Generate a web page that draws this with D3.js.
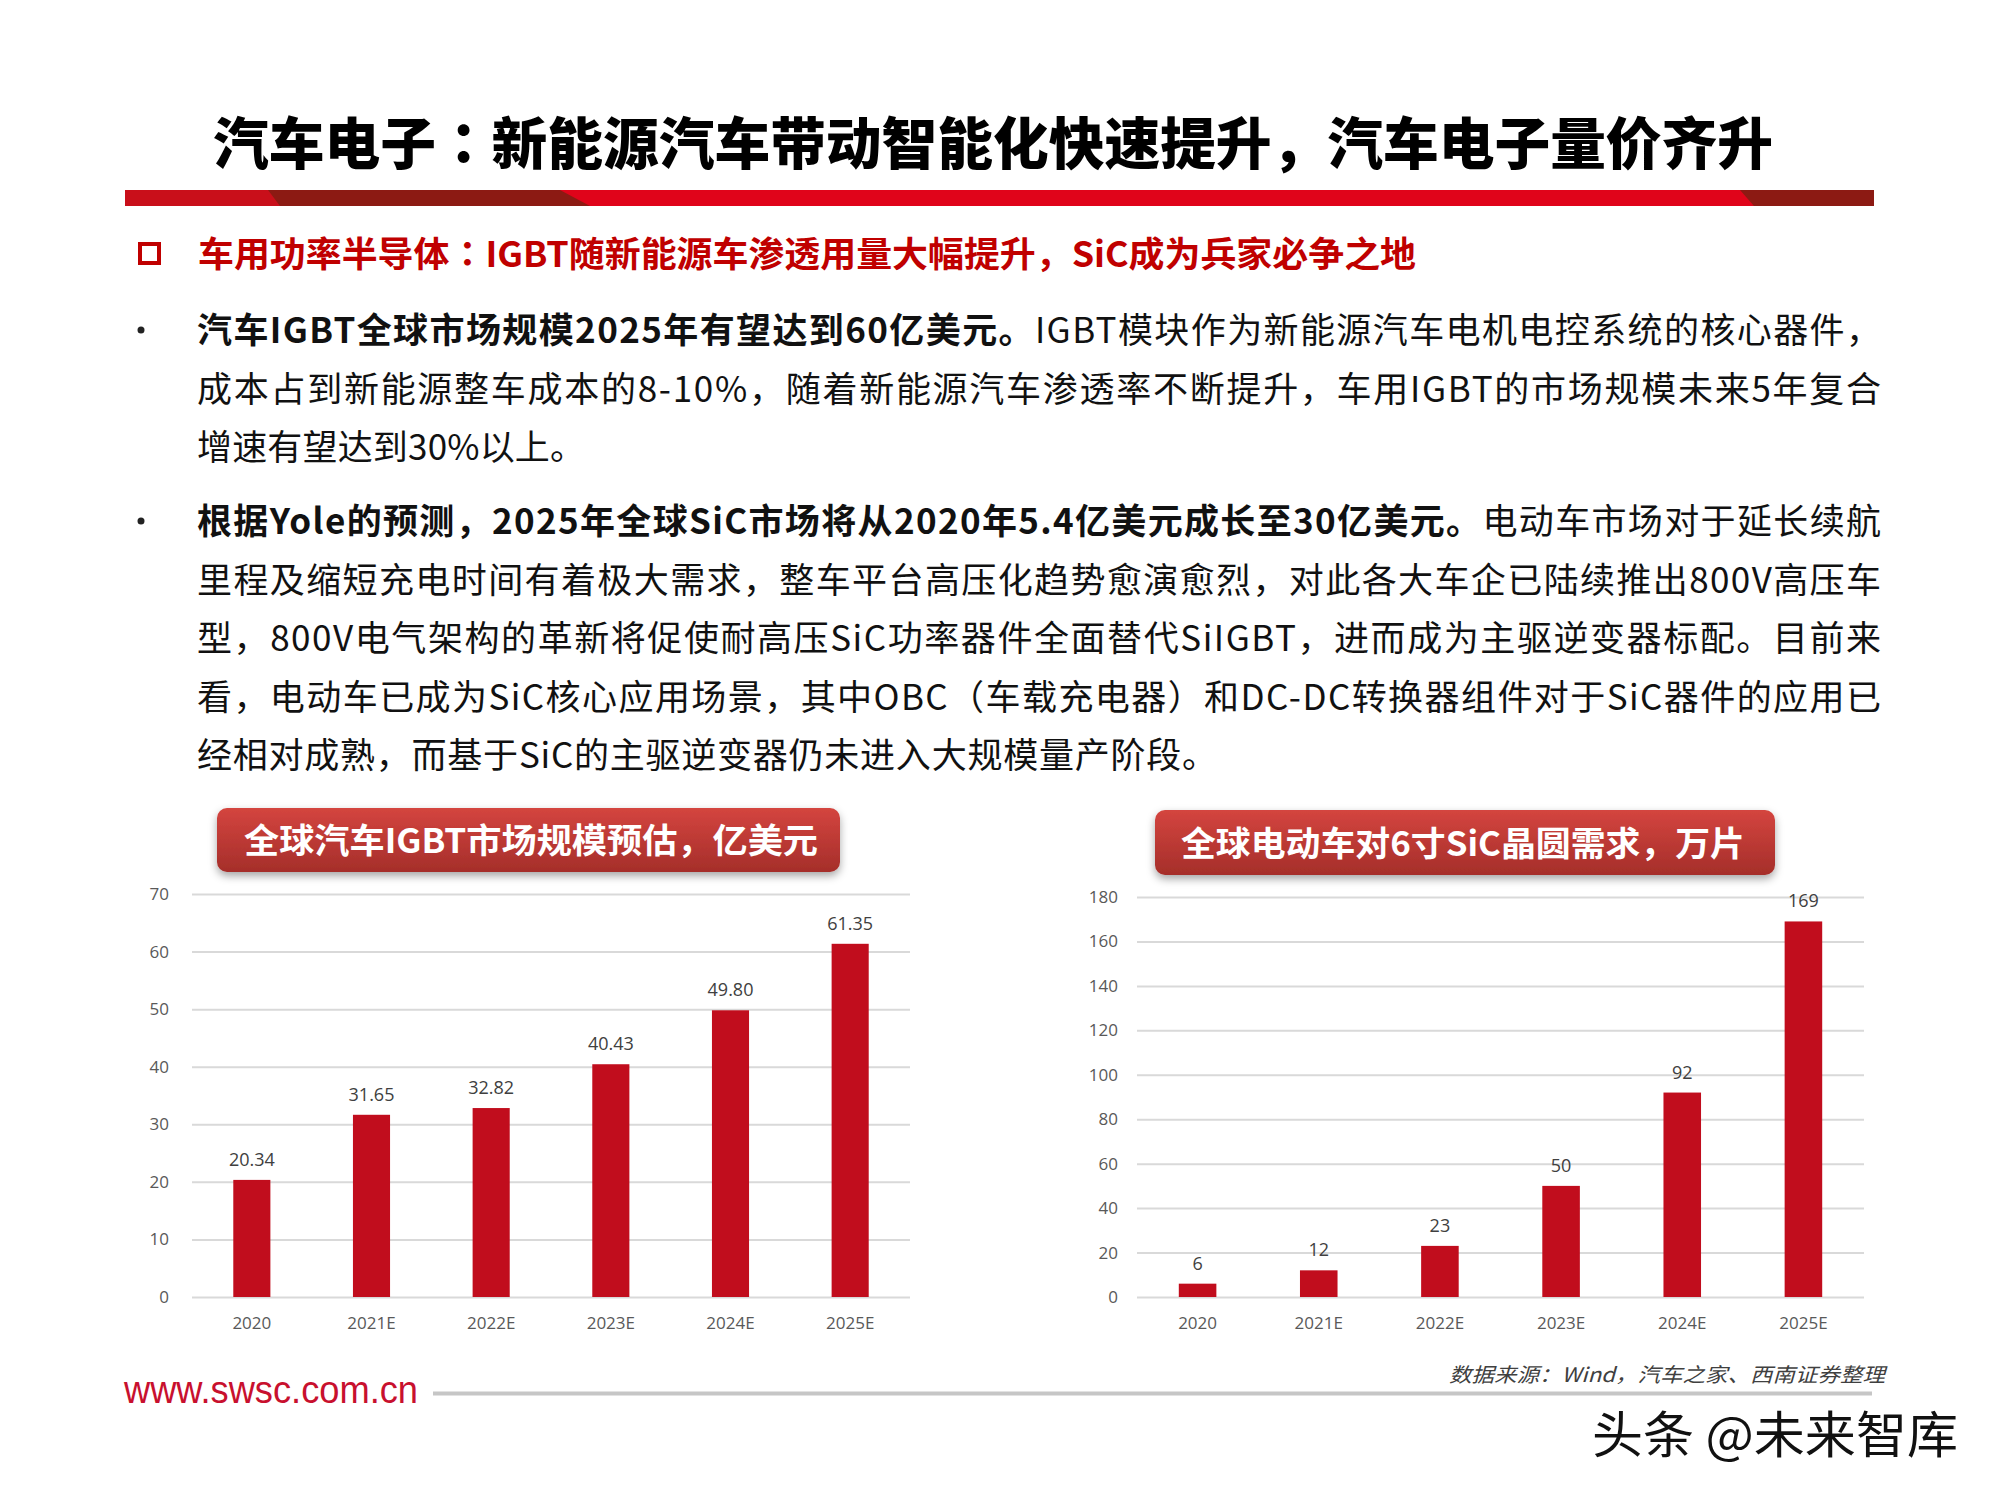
<!DOCTYPE html>
<html><head><meta charset="utf-8">
<script src="https://cdn.jsdelivr.net/npm/d3@7"></script>
<style>html,body{margin:0;padding:0;background:#fff;} svg{display:block;}</style>
</head><body>
<svg id="c" width="2000" height="1500"></svg>
<script>
// ---------- data ----------
const categories = ["2020", "2021E", "2022E", "2023E", "2024E", "2025E"];
const igbtValues = [20.34, 31.65, 32.82, 40.43, 49.80, 61.35];
const sicValues = [6, 12, 23, 50, 92, 169];
const igbtTicks = [0, 10, 20, 30, 40, 50, 60, 70];
const sicTicks = [0, 20, 40, 60, 80, 100, 120, 140, 160, 180];

const titleText = "汽车电子：新能源汽车带动智能化快速提升，汽车电子量价齐升";
const subheadText = "车用功率半导体：IGBT随新能源车渗透用量大幅提升，SiC成为兵家必争之地";
const para1 = [
  ["汽车IGBT全球市场规模2025年有望达到60亿美元。", "IGBT模块作为新能源汽车电机电控系统的核心器件，", true],
  ["", "成本占到新能源整车成本的8-10%，随着新能源汽车渗透率不断提升，车用IGBT的市场规模未来5年复合", true],
  ["", "增速有望达到30%以上。", false]
];
const para2 = [
  ["根据Yole的预测，2025年全球SiC市场将从2020年5.4亿美元成长至30亿美元。", "电动车市场对于延长续航", true],
  ["", "里程及缩短充电时间有着极大需求，整车平台高压化趋势愈演愈烈，对此各大车企已陆续推出800V高压车", true],
  ["", "型，800V电气架构的革新将促使耐高压SiC功率器件全面替代SiIGBT，进而成为主驱逆变器标配。目前来", true],
  ["", "看，电动车已成为SiC核心应用场景，其中OBC（车载充电器）和DC-DC转换器组件对于SiC器件的应用已", true],
  ["", "经相对成熟，而基于SiC的主驱逆变器仍未进入大规模量产阶段。", false]
];
const chart1Title = "全球汽车IGBT市场规模预估，亿美元";
const chart2Title = "全球电动车对6寸SiC晶圆需求，万片";
const sourceText = "数据来源：Wind，汽车之家、西南证券整理";
const urlText = "www.swsc.com.cn";
const watermarkText = "头条 @未来智库";

// ---------- drawing ----------
const svg = d3.select("#c");
const CJK = "'Noto Sans CJK SC','Noto Sans',sans-serif";
const CJKP = "'Noto Sans CJK TC','Noto Sans CJK SC',sans-serif"; // centred fullwidth colon
const defs = svg.append("defs");

// append text, putting the fullwidth colon in a centred-punctuation font
function addRich(sel, str, weight) {
  const parts = str.split(/(：)/).filter(s => s.length);
  parts.forEach(p => {
    const ts = sel.append("tspan").text(p);
    if (weight) ts.attr("font-weight", weight);
    if (p === "：") ts.attr("font-family", CJKP);
  });
}

const grad = defs.append("linearGradient").attr("id", "hdrGrad").attr("x1", 0).attr("y1", 0).attr("x2", 0).attr("y2", 1);
grad.append("stop").attr("offset", "0%").attr("stop-color", "#d4453f");
grad.append("stop").attr("offset", "100%").attr("stop-color", "#a52e2a");
const shadow = defs.append("filter").attr("id", "shd").attr("x", "-10%").attr("y", "-30%").attr("width", "120%").attr("height", "170%");
shadow.append("feDropShadow").attr("dx", 0).attr("dy", 4).attr("stdDeviation", 4).attr("flood-color", "#000").attr("flood-opacity", 0.35);

svg.append("rect").attr("width", 2000).attr("height", 1500).attr("fill", "#fff");

// title
const tt = svg.append("text").attr("x", 213).attr("y", 164)
  .attr("font-family", CJK).attr("font-size", 56).attr("font-weight", 900).attr("fill", "#000")
  .attr("textLength", 1560).attr("lengthAdjust", "spacingAndGlyphs");
addRich(tt, titleText);

// red banner bar
const bar = svg.append("g");
bar.append("rect").attr("x", 125).attr("y", 190).attr("width", 1749).attr("height", 16).attr("fill", "#e0041a");
bar.append("rect").attr("x", 125).attr("y", 190).attr("width", 160).attr("height", 16).attr("fill", "#c90f1a");
bar.append("polygon").attr("points", "268,190 560,190 590,206 280,206").attr("fill", "#8c1a13");
bar.append("polygon").attr("points", "1740,190 1874,190 1874,206 1754,206").attr("fill", "#8c1a13");

// subheading
svg.append("rect").attr("x", 140).attr("y", 244).attr("width", 19).attr("height", 19)
  .attr("fill", "none").attr("stroke", "#c00000").attr("stroke-width", 4);
const st = svg.append("text").attr("x", 198).attr("y", 267)
  .attr("font-family", CJK).attr("font-size", 35).attr("font-weight", 700).attr("fill", "#c00000")
  .attr("textLength", 1218).attr("lengthAdjust", "spacingAndGlyphs");
addRich(st, subheadText);

// body paragraphs
function drawPara(lines, y0, lastLen) {
  const lh = 58.5;
  svg.append("circle").attr("cx", 141).attr("cy", y0 - 13).attr("r", 3.5).attr("fill", "#222");
  lines.forEach((ln, i) => {
    const t = svg.append("text").attr("x", 197).attr("y", y0 + i * lh)
      .attr("font-family", CJK).attr("font-size", 35).attr("fill", "#111");
    if (ln[2]) t.attr("textLength", 1684).attr("lengthAdjust", "spacing");
    else t.attr("textLength", lastLen).attr("lengthAdjust", "spacing");
    if (ln[0]) addRich(t, ln[0], 700);
    addRich(t, ln[1]);
  });
}
drawPara(para1, 343, 388);
drawPara(para2, 534, 1020);

// chart headers
function header(x, y, w, h, label, tx, tlen) {
  svg.append("rect").attr("x", x).attr("y", y).attr("width", w).attr("height", h)
    .attr("rx", 10).attr("fill", "url(#hdrGrad)").attr("filter", "url(#shd)");
  const t = svg.append("text").attr("x", tx).attr("y", y + h / 2 + 13)
    .attr("font-family", CJK).attr("font-size", 34).attr("font-weight", 700).attr("fill", "#fff")
    .attr("textLength", tlen).attr("lengthAdjust", "spacingAndGlyphs");
  addRich(t, label);
}

// bar charts
function drawChart(cfg) {
  const g = svg.append("g");
  const x = d3.scaleBand().domain(categories).range([cfg.x0, cfg.x1]).paddingInner(0.69).paddingOuter(0.345);
  const y = d3.scaleLinear().domain([0, cfg.max]).range([cfg.yBottom, cfg.yTop]);
  const yAxis = d3.axisLeft(y).tickValues(cfg.ticks).tickSizeInner(-(cfg.x1 - cfg.x0)).tickSizeOuter(0).tickPadding(cfg.pad);
  const ya = g.append("g").attr("transform", `translate(${cfg.x0},0)`).call(yAxis);
  ya.select(".domain").remove();
  ya.selectAll("line").attr("stroke", "#d9d9d9").attr("stroke-width", 2);
  ya.selectAll("text").attr("font-family", "'Open Sans',sans-serif").attr("font-size", 17).attr("fill", "#595959");

  g.selectAll("rect.bar").data(cfg.values).join("rect").attr("class", "bar")
    .attr("x", (d, i) => x(categories[i])).attr("width", x.bandwidth())
    .attr("y", d => y(d)).attr("height", d => y(0) - y(d)).attr("fill", "#c10d1d");

  g.selectAll("text.val").data(cfg.values).join("text").attr("class", "val")
    .attr("x", (d, i) => x(categories[i]) + x.bandwidth() / 2).attr("y", d => y(d) - 14)
    .attr("text-anchor", "middle").attr("font-family", "'Open Sans',sans-serif").attr("font-size", 18).attr("fill", "#404040")
    .text(d => cfg.fmt(d));

  const xAxis = d3.axisBottom(x).tickSize(0).tickPadding(20);
  const xa = g.append("g").attr("transform", `translate(0,${cfg.yBottom})`).call(xAxis);
  xa.select(".domain").remove();
  xa.selectAll("text").attr("font-family", "'Open Sans',sans-serif").attr("font-size", 17).attr("fill", "#595959");
}

drawChart({x0: 192, x1: 910, yTop: 894, yBottom: 1297, max: 70, ticks: igbtTicks, values: igbtValues, pad: 23, fmt: d3.format(".2f")});
drawChart({x0: 1137, x1: 1864, yTop: 897, yBottom: 1297, max: 180, ticks: sicTicks, values: sicValues, pad: 19, fmt: d3.format("d")});

header(217, 808, 623, 64, chart1Title, 244, 574);
header(1155, 810, 620, 65, chart2Title, 1181, 564);

// footer
svg.append("text").attr("x", 1449).attr("y", 1382)
  .attr("font-family", CJK).attr("font-size", 20).attr("font-style", "italic").attr("fill", "#404040")
  .attr("textLength", 436).attr("lengthAdjust", "spacingAndGlyphs")
  .text(sourceText);
svg.append("text").attr("x", 124).attr("y", 1403)
  .attr("font-family", "'Liberation Sans',Arial,sans-serif").attr("font-size", 38).attr("fill", "#c8102e")
  .attr("textLength", 294).attr("lengthAdjust", "spacingAndGlyphs")
  .text(urlText);
svg.append("line").attr("x1", 433).attr("x2", 1872).attr("y1", 1393.5).attr("y2", 1393.5)
  .attr("stroke", "#c6c6c6").attr("stroke-width", 4);
svg.append("text").attr("x", 1592).attr("y", 1453)
  .attr("font-family", CJK).attr("font-size", 50).attr("fill", "#111")
  .attr("stroke", "#fff").attr("stroke-width", 3).attr("paint-order", "stroke")
  .attr("textLength", 366).attr("lengthAdjust", "spacingAndGlyphs")
  .text(watermarkText);
</script>
</body></html>
